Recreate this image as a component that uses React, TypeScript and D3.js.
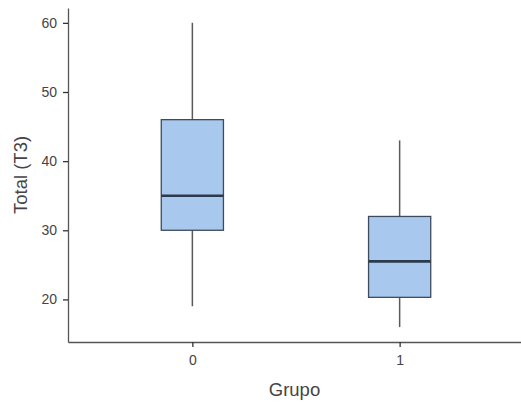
import * as d3 from 'd3';
import React, { useEffect, useRef } from 'react';

const groups = ['0', '1'];
const lowWhisker = [19, 16];
const q1 = [30, 20.3];
const median = [35, 25.5];
const q3 = [46, 32];
const highWhisker = [60, 43];
const yTicks = [20, 30, 40, 50, 60];

const App = () => {
  const ref = useRef<SVGSVGElement>(null);

  useEffect(() => {
    const width = 521, height = 403;
    const margin = { top: 8, right: 0, bottom: 61, left: 68 };
    const font = 'Arial, "Liberation Sans", sans-serif';

    const svg = d3.select(ref.current);
    svg.selectAll('*').remove();

    const x = d3.scalePoint<string>()
      .domain(groups)
      .range([margin.left, margin.left + 456])
      .padding(0.6);

    const y = d3.scaleLinear()
      .domain([13.84, 62.15])
      .range([height - margin.bottom, margin.top]);

    const boxW = x.step() * 0.3;

    const data = groups.map((g, i) => ({
      g, lo: lowWhisker[i], q1: q1[i], med: median[i], q3: q3[i], hi: highWhisker[i],
    }));

    const g = svg.append('g');

    // whiskers
    g.selectAll('.whisker')
      .data(data)
      .join('line')
      .attr('x1', d => x(d.g)!)
      .attr('x2', d => x(d.g)!)
      .attr('y1', d => y(d.lo))
      .attr('y2', d => y(d.hi))
      .attr('stroke', '#5a5a5a')
      .attr('stroke-width', 1.5);

    g.selectAll('.box')
      .data(data)
      .join('rect')
      .attr('x', d => x(d.g)! - boxW / 2)
      .attr('y', d => y(d.q3))
      .attr('width', boxW)
      .attr('height', d => y(d.q1) - y(d.q3))
      .attr('fill', '#a9c8ee')
      .attr('stroke', '#3e4b5c')
      .attr('stroke-width', 1.3);

    g.selectAll('.median')
      .data(data)
      .join('line')
      .attr('x1', d => x(d.g)! - boxW / 2)
      .attr('x2', d => x(d.g)! + boxW / 2)
      .attr('y1', d => y(d.med))
      .attr('y2', d => y(d.med))
      .attr('stroke', '#2c3a4c')
      .attr('stroke-width', 2.6);

    // axes
    const yAxis = svg.append('g')
      .attr('transform', `translate(${margin.left},0)`)
      .call(d3.axisLeft(y).tickValues(yTicks).tickSize(5).tickPadding(6).tickSizeOuter(0));

    const xAxis = svg.append('g')
      .attr('transform', `translate(0,${height - margin.bottom})`)
      .call(d3.axisBottom(x).tickSize(5).tickPadding(8).tickSizeOuter(0));

    [yAxis, xAxis].forEach(ax => {
      ax.select('.domain').attr('stroke', '#555').attr('stroke-width', 1.3);
      ax.selectAll('.tick line').attr('stroke', '#333').attr('stroke-width', 1.3);
      ax.selectAll('.tick text')
        .attr('fill', '#444')
        .style('font-family', font)
        .style('font-size', '14px');
    });

    svg.append('text')
      .attr('x', (margin.left + width) / 2)
      .attr('y', 396)
      .attr('text-anchor', 'middle')
      .attr('fill', '#444')
      .style('font-family', font)
      .style('font-size', '18.5px')
      .text('Grupo');

    svg.append('text')
      .attr('transform', `translate(27,${y(38)}) rotate(-90)`)
      .attr('text-anchor', 'middle')
      .attr('fill', '#444')
      .style('font-family', font)
      .style('font-size', '18.5px')
      .text('Total (T3)');
  }, []);

  return (
    <svg ref={ref} width={521} height={403}
      style={{ position: 'absolute', left: 0, top: 0, background: '#fff' }} />
  );
};

export default App;
